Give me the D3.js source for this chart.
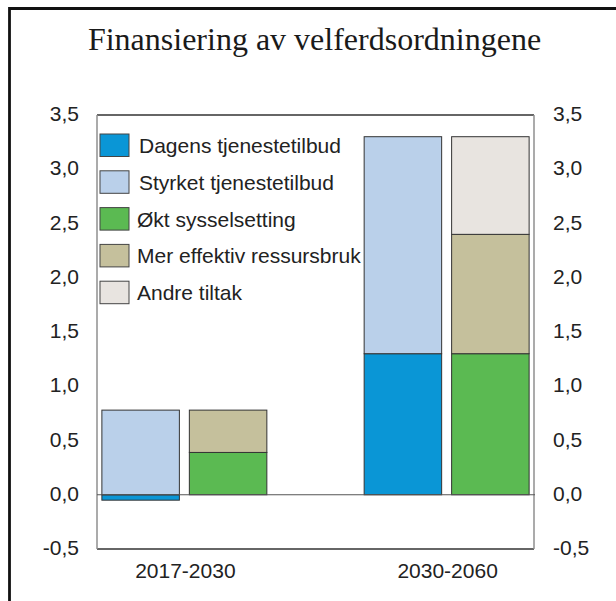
<!DOCTYPE html>
<html>
<head>
<meta charset="utf-8">
<script src="https://cdn.jsdelivr.net/npm/d3@7"></script>
<style>
  body { margin: 0; background: #fff; }
  text { font-family: "Liberation Sans", Arial, sans-serif; fill: #222; }
</style>
</head>
<body>
<div id="chart"></div>
<script>
// data
var periods = ["2017-2030", "2030-2060"];
var barKinds = ["Utgifter", "Tiltak"];
var seriesNames = ["Dagens tjenestetilbud", "Styrket tjenestetilbud", "Økt sysselsetting",
                   "Mer effektiv ressursbruk", "Andre tiltak"];
var seriesColors = ["#0a96d6", "#bad0ea", "#5bba52", "#c5c09c", "#e8e4e0"];
// one value per bar: 2017-2030 utgifter, 2017-2030 tiltak, 2030-2060 utgifter, 2030-2060 tiltak
var dagens = [-0.05, 0, 1.3, 0];
var styrket = [0.78, 0, 2.0, 0];
var oktSyss = [0, 0.39, 0, 1.3];
var merEffektiv = [0, 0.39, 0, 1.1];
var andreTiltak = [0, 0, 0, 0.9];
var yTicks = [-0.5, 0, 0.5, 1.0, 1.5, 2.0, 2.5, 3.0, 3.5];

var W = 616, H = 601;
var plot = {left: 97, right: 534, top: 115, bottom: 549};

var svg = d3.select("#chart").append("svg")
    .attr("width", W).attr("height", H);

// outer frame (open at right/bottom like the original crop)
svg.append("path")
    .attr("d", "M9.5," + H + "V8.5H" + W)
    .attr("fill", "none").attr("stroke", "#111").attr("stroke-width", 2.8);

svg.append("text")
    .attr("x", 314.5).attr("y", 49.5)
    .attr("text-anchor", "middle")
    .style("font-family", "'Liberation Serif', 'Times New Roman', serif")
    .style("font-size", "32px")
    .style("fill", "#1a1a1a")
    .text("Finansiering av velferdsordningene");

var y = d3.scaleLinear().domain([-0.5, 3.5]).range([plot.bottom, plot.top]);
var x0 = d3.scaleBand().domain(periods).range([plot.left, plot.right])
    .paddingInner(0.371).paddingOuter(0.0186);
var x1 = d3.scaleBand().domain(barKinds).range([0, x0.bandwidth()])
    .paddingInner(0.114).paddingOuter(0);

var nb = d3.formatLocale({decimal: ",", thousands: " ", grouping: [3], currency: ["", " kr"], minus: "-"});
var fmt = nb.format(".1f");

// axes on both sides, labels only
var axL = svg.append("g").attr("transform", "translate(" + (plot.left - 18) + ",0)")
    .call(d3.axisLeft(y).tickValues(yTicks).tickSize(0).tickPadding(0).tickFormat(fmt));
var axR = svg.append("g").attr("transform", "translate(" + (plot.right + 19) + ",0)")
    .call(d3.axisRight(y).tickValues(yTicks).tickSize(0).tickPadding(0).tickFormat(fmt));
[axL, axR].forEach(function(ax) {
    ax.select(".domain").remove();
    ax.selectAll("text").style("font-size", "21px")
        .style("font-family", "'Liberation Sans', Arial, sans-serif").attr("fill", "#222")
        .attr("dy", "0.27em");
});

// x labels
svg.append("g").attr("transform", "translate(0," + (plot.bottom + 29) + ")")
    .selectAll("text").data(periods).enter().append("text")
    .attr("x", function(d) { return x0(d) + x0.bandwidth() / 2 + 1; })
    .attr("text-anchor", "middle")
    .style("font-size", "21px")
    .text(function(d) { return d; });

// plot frame
svg.append("line").attr("x1", plot.left).attr("x2", plot.right).attr("y1", plot.top).attr("y2", plot.top)
    .attr("stroke", "#333").attr("stroke-width", 1.3);
svg.append("line").attr("x1", plot.left).attr("x2", plot.right).attr("y1", plot.bottom).attr("y2", plot.bottom)
    .attr("stroke", "#333").attr("stroke-width", 1.3);
svg.append("line").attr("x1", plot.left).attr("x2", plot.left).attr("y1", plot.top).attr("y2", plot.bottom)
    .attr("stroke", "#8f8f8f").attr("stroke-width", 1.5);
svg.append("line").attr("x1", plot.right).attr("x2", plot.right).attr("y1", plot.top).attr("y2", plot.bottom)
    .attr("stroke", "#8f8f8f").attr("stroke-width", 1.5);

// legend (drawn under the bars)
var legend = svg.append("g").attr("transform", "translate(100,134)");
var rows = legend.selectAll("g").data(seriesNames).enter().append("g")
    .attr("transform", function(d, i) { return "translate(0," + (i * 36.8) + ")"; });
rows.append("rect")
    .attr("width", 29).attr("height", 22.5)
    .attr("fill", function(d, i) { return seriesColors[i]; })
    .attr("stroke", "#444").attr("stroke-width", 1);
rows.append("text")
    .attr("x", function(d, i) { return i < 2 ? 39 : 37; }).attr("y", 19)
    .style("font-size", "21px")
    .text(function(d) { return d; });

// bars
var bars = [];
periods.forEach(function(p, pi) {
    barKinds.forEach(function(k, ki) {
        var i = pi * barKinds.length + ki;
        var row = {period: p, kind: k};
        row[seriesNames[0]] = dagens[i];
        row[seriesNames[1]] = styrket[i];
        row[seriesNames[2]] = oktSyss[i];
        row[seriesNames[3]] = merEffektiv[i];
        row[seriesNames[4]] = andreTiltak[i];
        bars.push(row);
    });
});

var stack = d3.stack().keys(seriesNames).offset(d3.stackOffsetDiverging);
var layers = stack(bars);

svg.append("g").selectAll("g").data(layers).enter().append("g")
    .attr("fill", function(d, i) { return seriesColors[i]; })
    .selectAll("rect")
    .data(function(d) { return d.filter(function(s) { return s[1] - s[0] !== 0; }); })
    .enter().append("rect")
    .attr("x", function(d) { return x0(d.data.period) + x1(d.data.kind); })
    .attr("width", x1.bandwidth())
    .attr("y", function(d) { return y(Math.max(d[0], d[1])); })
    .attr("height", function(d) { return Math.abs(y(d[0]) - y(d[1])); })
    .attr("stroke", "#333").attr("stroke-width", 1);

// zero line
svg.append("line")
    .attr("x1", plot.left).attr("x2", plot.right + 1)
    .attr("y1", y(0)).attr("y2", y(0))
    .attr("stroke", "#555").attr("stroke-width", 1.2);
</script>
</body>
</html>
